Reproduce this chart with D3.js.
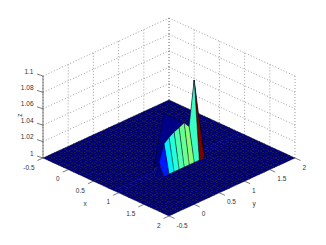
<!DOCTYPE html>
<html>
<head>
<meta charset="utf-8">
<script src="https://cdn.jsdelivr.net/npm/d3@7"></script>
<style>
body { margin: 0; background: white; }
text { font-family: "Liberation Sans", sans-serif; font-size: 6.5px; fill: #333; }
</style>
</head>
<body>
<script>
const width = 326
const height = 245

const xTicks = [-0.5, 0, 0.5, 1, 1.5, 2]
const yTicks = [-0.5, 0, 0.5, 1, 1.5, 2]
const zTicks = [1, 1.02, 1.04, 1.06, 1.08, 1.1]

const gridX = [-0.5, -0.4, -0.3, -0.2, -0.1, 0, 0.1, 0.2, 0.3, 0.4, 0.5, 0.6, 0.7, 0.8, 0.9, 1, 1.1, 1.2, 1.3, 1.4, 1.5, 1.6, 1.7, 1.8, 1.9, 2]
const gridY = gridX.slice()
const floorZ = 1

// heights of the ridge that stands on the floor
const ridgeX = 1
const ridgeY = [0.3, 0.4, 0.5, 0.6, 0.7, 0.8, 0.9, 1, 1.1]
const ridgeZ = [1.014, 1.034, 1.039, 1.043, 1.0455, 1.0485, 1.041, 1.095, 1.043]
// past this y the ridge is hidden behind the red face, keep it floor coloured
const ridgeEndY = 1.1

// dark wall just behind the ridge
const wallX = 0.9
const wallY = [0.4, 0.5, 0.6, 0.7, 0.8, 0.9]
const wallZ = [1.035, 1.065, 1.06, 1.054, 1.048, 1.04]
const wallColorZ = 1.001

const sxFromX = d3.scaleLinear().domain([-0.5, 2]).range([43, 169])
const sxFromY = d3.scaleLinear().domain([-0.5, 2]).range([0, 126])
const syFromX = d3.scaleLinear().domain([-0.5, 2]).range([158, 216])
const syFromY = d3.scaleLinear().domain([-0.5, 2]).range([0, -58])
const syFromZ = d3.scaleLinear().domain([1, 1.1]).range([0, -82])

function project(x, y, z){
    return [sxFromX(x) + sxFromY(y), syFromX(x) + syFromY(y) + syFromZ(z)]
}

function lookup(ys, zs, y){
    let k = ys.findIndex(d => Math.abs(d - y) < 0.01)
    return k >= 0 ? zs[k] : floorZ
}

function zAt(x, y){
    if(Math.abs(x - ridgeX) < 0.01) return lookup(ridgeY, ridgeZ, y)
    if(Math.abs(x - wallX) < 0.01) return lookup(wallY, wallZ, y)
    return floorZ
}

function jet(t){
    const c = v => Math.round(255*Math.max(0, Math.min(1, v)))
    return `rgb(${c(1.5 - Math.abs(4*t - 3))},${c(1.5 - Math.abs(4*t - 2))},${c(1.5 - Math.abs(4*t - 1))})`
}
const colorT = d3.scaleLinear().domain([floorZ, d3.max(ridgeZ)]).range([0, 1])

function colorAt(x, y){
    if(Math.abs(x - wallX) < 0.01 && zAt(x, y) > floorZ) return jet(colorT(wallColorZ))
    if(Math.abs(x - ridgeX) < 0.01 && y > ridgeEndY - 0.01) return jet(colorT(floorZ))
    return jet(colorT(zAt(x, y)))
}

const svg = d3.select("body").append("svg")
    .attr("width", width)
    .attr("height", height)

const gridColor = "#777"
function seg(a, b, color, dash){
    svg.append("line")
        .attr("x1", a[0]).attr("y1", a[1])
        .attr("x2", b[0]).attr("y2", b[1])
        .attr("stroke", color)
        .attr("stroke-width", 0.7)
        .attr("stroke-dasharray", dash)
}

// back walls
zTicks.forEach(z => {
    seg(project(-0.5, -0.5, z), project(-0.5, 2, z), gridColor, "1,2")
    seg(project(-0.5, 2, z), project(2, 2, z), gridColor, "1,2")
})
yTicks.forEach(y => seg(project(-0.5, y, 1), project(-0.5, y, 1.1), gridColor, "1,2"))
xTicks.forEach(x => seg(project(x, 2, 1), project(x, 2, 1.1), gridColor, "1,2"))

// surface, back to front
const line = d3.line()
const cells = []
for(let i = 0; i < gridX.length - 1; i++){
    for(let j = gridY.length - 2; j >= 0; j--){
        cells.push([i, j])
    }
}
svg.selectAll(".cell")
    .data(cells)
    .enter()
    .append("path")
    .attr("class", "cell")
    .attr("d", function(d){
        const x0 = gridX[d[0]], x1 = gridX[d[0] + 1]
        const y0 = gridY[d[1]], y1 = gridY[d[1] + 1]
        return line([
            project(x0, y0, zAt(x0, y0)),
            project(x1, y0, zAt(x1, y0)),
            project(x1, y1, zAt(x1, y1)),
            project(x0, y1, zAt(x0, y1))
        ]) + "Z"
    })
    .attr("fill", d => colorAt(gridX[d[0]], gridY[d[1]]))
    .attr("stroke", d => Math.abs(gridX[d[0]] - wallX) < 0.01 ? "#000060" : "#000")
    .attr("stroke-width", 0.4)

// z axis
seg(project(-0.5, -0.5, 1), project(-0.5, -0.5, 1.1), "#444")
svg.selectAll(".zlabel")
    .data(zTicks)
    .enter()
    .append("text")
    .attr("x", 33.5)
    .attr("y", d => project(-0.5, -0.5, d)[1] - 2.5)
    .attr("text-anchor", "end")
    .text(d => d)
zTicks.forEach(z => {
    const p = project(-0.5, -0.5, z)
    seg(p, [p[0] - 6, p[1] - 2], "#444")
})

// x ticks along the front left edge
xTicks.forEach(x => {
    const p = project(x, -0.5, 1)
    seg(p, [p[0] - 5.5, p[1] + 2.5], "#444")
})
svg.selectAll(".xlabel")
    .data(xTicks)
    .enter()
    .append("text")
    .attr("x", d => project(d, -0.5, 1)[0] - 8.5)
    .attr("y", d => project(d, -0.5, 1)[1] + 11.5)
    .attr("text-anchor", "end")
    .text(d => d)

// y ticks along the front right edge
yTicks.forEach(y => {
    const p = project(2, y, 1)
    seg(p, [p[0] + 5.5, p[1] + 2.5], "#444")
})
svg.selectAll(".ylabel")
    .data(yTicks)
    .enter()
    .append("text")
    .attr("x", d => project(2, d, 1)[0] + 7.5)
    .attr("y", d => project(2, d, 1)[1] + 11.5)
    .text(d => d)

svg.append("text").attr("x", 85).attr("y", 205.5).attr("text-anchor", "middle").text("x")
svg.append("text").attr("x", 254).attr("y", 205.5).attr("text-anchor", "middle").text("y")
svg.append("text")
    .attr("transform", "translate(22,115) rotate(-90)")
    .attr("text-anchor", "middle")
    .text("z")
</script>
</body>
</html>
